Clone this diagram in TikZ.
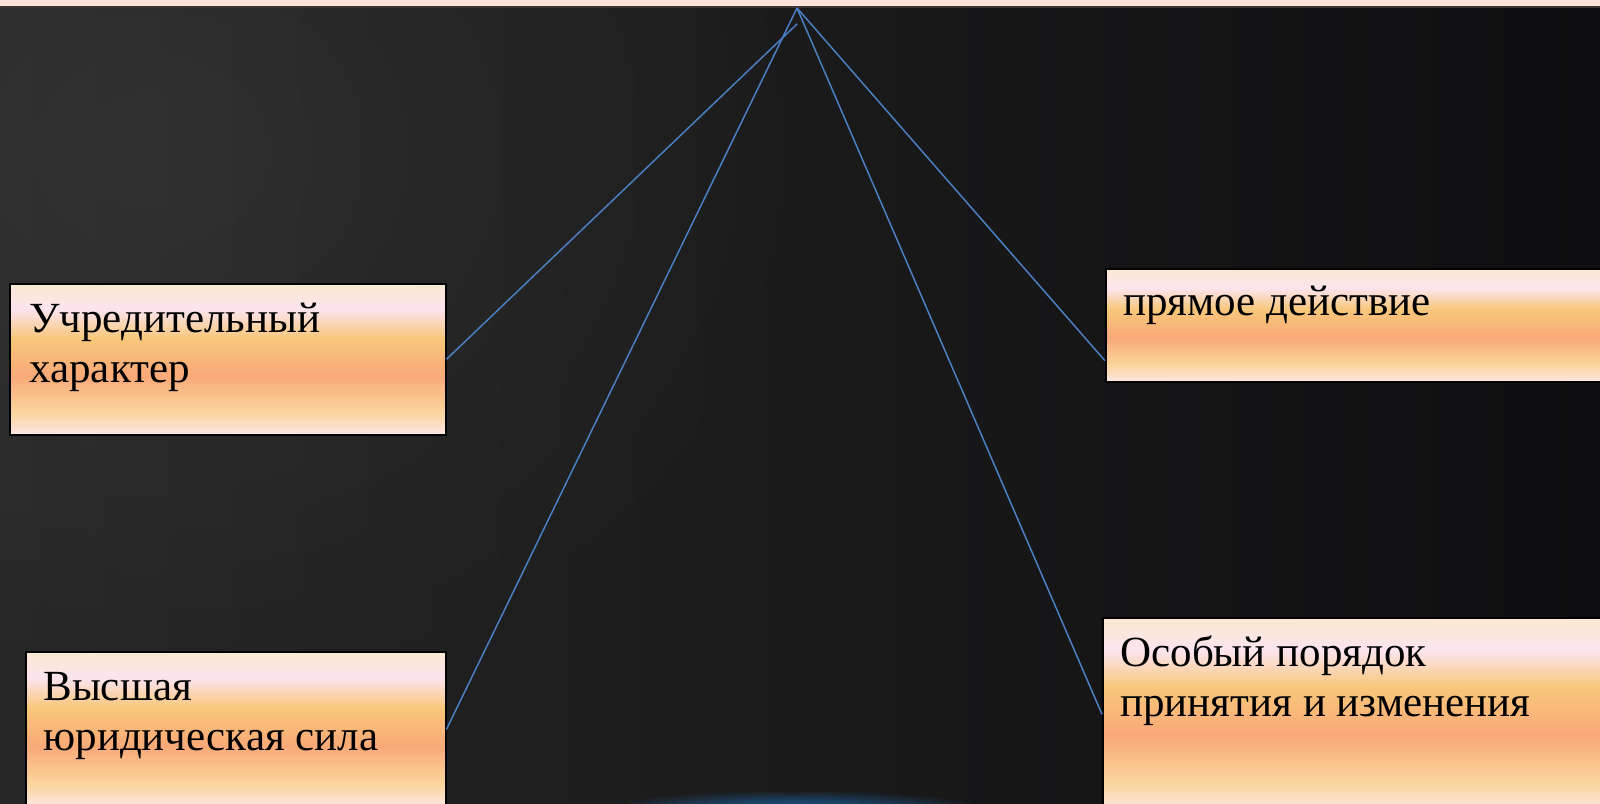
\documentclass[tikz,border=0pt]{standalone}
\usepackage{fontspec}
\setmainfont{Liberation Serif}
\usepackage{xcolor}
\usepackage{tikz}
\usetikzlibrary{calc}
\usetikzlibrary{fadings}

\definecolor{bgLeft}{HTML}{262626}
\definecolor{bgRight}{HTML}{0E0E10}
\definecolor{stripPink}{HTML}{FBE3DC}
\definecolor{stripEdge}{HTML}{3A3636}
\definecolor{lineBlue}{HTML}{4A7FC1}
\definecolor{glowBlue}{HTML}{1F74C0}
\definecolor{boxCream}{HTML}{FAE9D2}
\definecolor{boxRose}{HTML}{FCE4EE}
\definecolor{boxOrange}{HTML}{F8C77A}
\definecolor{boxSalmon}{HTML}{F9A978}
\definecolor{boxLight}{HTML}{FAD59C}
\definecolor{boxPink}{HTML}{FCE6E4}

\pgfdeclareverticalshading{boxshade}{100bp}{color(0bp)=(boxPink); color(25bp)=(boxPink); color(32.5bp)=(boxLight); color(44.5bp)=(boxSalmon); color(57bp)=(boxOrange); color(66.5bp)=(boxRose); color(75bp)=(boxCream); color(100bp)=(boxCream)}
\tikzfading[name=glowfade, inner color=transparent!0, outer color=transparent!100]

\begin{document}
\begin{tikzpicture}[x=0.5pt,y=-0.5pt,
    box/.style={draw=black,line width=0.75pt,shading=boxshade,anchor=north west,inner sep=0pt},
    lbl/.style={anchor=base west,inner sep=0pt,align=left,text=black,font=\fontsize{21.5pt}{25pt}\selectfont},
    conn/.style={draw=lineBlue,line width=0.75pt}]
    %%% BACKGROUND %%%
    \useasboundingbox (0,0) rectangle (1600,803);
    \begin{scope}
    \clip (0,0) rectangle (1600,803);
    \shade[left color=bgLeft,right color=bgRight] (0,0) rectangle (1600,803);
    \fill[white,opacity=0.06,path fading=glowfade] (150,150) ellipse [x radius=700,y radius=600];
    \fill[glowBlue,opacity=0.9,path fading=glowfade] (795,812) ellipse [x radius=200,y radius=22];
    \fill[stripPink] (0,0) rectangle (1600,6);
    \fill[stripEdge] (0,6) rectangle (1600,8);

    %%% COORDINATES %%%
    \coordinate (apex) at (797,8);
    \coordinate (apex2) at (797,24);

    %%% BOXES %%%
    \node[box,minimum width=218pt,minimum height=75.5pt] (ucr) at (9,283) {};
    \node[box,minimum width=210pt,minimum height=77.5pt] (vys) at (25,651) {};
    \node[box,minimum width=253pt,minimum height=56.5pt] (pryam) at (1105,268) {};
    \node[box,minimum width=254pt,minimum height=96.5pt] (osob) at (1102,617) {};

    %%% TEXTS %%% (base = last line)
    \node[lbl] (ucrT) at (29,382) {Учредительный\\характер};
    \node[lbl] (vysT) at (43,750) {Высшая\\юридическая сила};
    \node[lbl] (pryamT) at (1123,315) {прямое действие};
    \node[lbl] (osobT) at (1120,716) {Особый порядок\\принятия и изменения};

    %%% CONNECTORS %%%
    \draw[conn] (apex2) -- (ucr.east);
    \draw[conn] (apex) -- (vys.east);
    \draw[conn] (apex) -- ($(pryam.south west)!0.19!(pryam.north west)$);
    \draw[conn] (apex) -- (osob.west);
    \end{scope}
\end{tikzpicture}
\end{document}
